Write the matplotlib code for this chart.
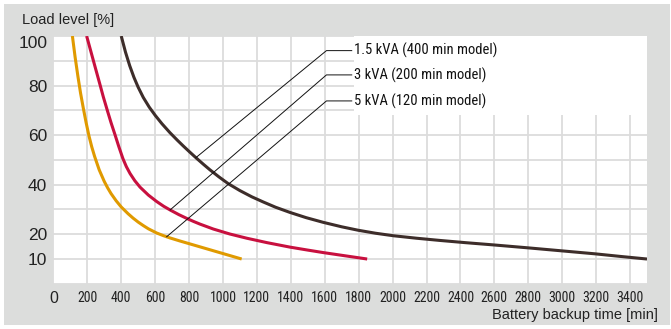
import matplotlib
matplotlib.use("Agg")
import matplotlib.pyplot as plt
import matplotlib.transforms as mtransforms
from matplotlib import font_manager
from matplotlib.patches import Rectangle

# battery backup time [min] vs load level [%]
time_5kva = [112, 128, 145, 160, 176, 193, 210, 226, 243, 270, 300, 320, 340, 370, 400, 440, 470, 500,
             530, 560, 609, 650, 688, 745, 805, 850, 900, 950, 1000, 1055, 1110]
load_5kva = [100, 91.5, 83.5, 77, 71, 65, 59.6, 55.3, 51.4, 46, 41.3, 38.7, 36.4, 33.5, 31, 28.3, 26.5, 24.9,
             23.5, 22.2, 20.5, 19.4, 18.5, 17.3, 16.1, 15.2, 14.2, 13.2, 12.2, 11.1, 10]

time_3kva = [196, 220, 250, 275, 294, 320, 340, 364, 385, 410, 430, 452, 480, 511, 560, 609, 650, 688,
             740, 786, 825, 864, 943, 1040, 1140, 1260, 1395, 1500, 1591, 1720, 1850]
load_3kva = [100, 94, 86.5, 80.3, 75.5, 69.5, 65, 60, 55.5, 50.5, 47.3, 44.5, 41.6, 39, 35.8, 33.2, 31.3, 29.8,
             27.9, 26.4, 25.2, 24.1, 22.1, 20.1, 18.4, 16.6, 14.8, 13.6, 12.6, 11.3, 10]

time_15kva = [400, 425, 450, 475, 500, 530, 565, 600, 640, 687, 730, 766, 805, 845, 885, 923, 975, 1031,
              1100, 1170, 1238, 1310, 1395, 1490, 1591, 1700, 1798, 1900, 2004, 2140, 2279, 2430, 2594,
              2800, 2997, 3193, 3350, 3500]
load_15kva = [100, 93.5, 88, 83.3, 79.3, 75.2, 71.3, 68, 64.6, 61, 58, 55.6, 53.1, 50.6, 48.2, 46, 43.2, 40.4,
              37.6, 35.1, 33, 30.9, 28.8, 26.7, 24.8, 23, 21.6, 20.4, 19.4, 18.4, 17.5, 16.6, 15.7,
              14.5, 13.3, 12.1, 11, 10]

models = ["1.5 kVA (400 min model)", "3 kVA (200 min model)", "5 kVA (120 min model)"]
label_y = [94.1, 84.3, 73.8]
leader_end_x = [840, 688, 668]
leader_end_y = [50.9, 29.8, 19.0]

x_ticks = list(range(0, 3500, 200))
y_ticks = [10, 20, 40, 60, 80, 100]

colors = {"5": "#e09a00", "3": "#c8103f", "1.5": "#3d2d2a"}

installed = {f.name for f in font_manager.fontManager.ttflist}
regular = ["Liberation Sans", "DejaVu Sans"]
narrow = regular
for cand in ["Liberation Sans Narrow", "Roboto Condensed", "Open Sans Condensed", "DejaVu Sans Condensed"]:
    if cand in installed:
        narrow = [cand, "DejaVu Sans"]
        break
is_narrow = narrow is not regular

fig = plt.figure(figsize=(6.71, 3.29), dpi=100, facecolor="white")
fig.patches.append(Rectangle((4 / 671, 4 / 329), 666 / 671, 321 / 329,
                             transform=fig.transFigure, facecolor="#dcdddc",
                             edgecolor="none", zorder=-10))

ax = fig.add_axes([53.4 / 671, 1 - 283.8 / 329, 593.6 / 671, 247.8 / 329])
ax.set_facecolor("white")
ax.set_xlim(0, 3500)
ax.set_ylim(0, 100)
for s in ax.spines.values():
    s.set_visible(False)

ax.set_axisbelow(True)
ax.set_xticks(x_ticks)
ax.set_yticks(y_ticks)
ax.set_yticks(range(0, 100, 10), minor=True)
ax.grid(which="both", color="#dcdcdc", linewidth=1.3)
ax.tick_params(which="both", length=0)
ax.tick_params(axis="x", pad=5, labelsize=10 if is_narrow else 9, labelcolor="#222222")
ax.tick_params(axis="y", pad=4.5, labelsize=12.5, labelcolor="#222222")
ax.set_xticklabels([str(t) for t in x_ticks])
for lab in ax.get_xticklabels():
    lab.set_family(narrow)
ax.get_xticklabels()[0].set_family(regular)
ax.get_xticklabels()[0].set_fontsize(11.5)
for lab in ax.get_yticklabels():
    lab.set_family(regular)
top = ax.get_yticklabels()[-1]
top.set_transform(top.get_transform() + mtransforms.ScaledTranslation(0, -6 / 100, fig.dpi_scale_trans))

# white box behind the model labels
ax.add_patch(Rectangle((1772, 68), 1728, 32, facecolor="white", edgecolor="none", zorder=1))

for t, l, c in [(time_5kva, load_5kva, colors["5"]),
                (time_3kva, load_3kva, colors["3"]),
                (time_15kva, load_15kva, colors["1.5"])]:
    ax.plot(t, l, color=c, lw=2.2, solid_capstyle="butt", solid_joinstyle="round", zorder=3)

for name, ly, ex, ey in zip(models, label_y, leader_end_x, leader_end_y):
    ax.plot([ex, 1610, 1759], [ey, ly, ly], color="#111111", lw=0.7, zorder=4)
    ax.text(1772, ly, name, family=narrow, fontsize=10.5 if is_narrow else 9.5,
            color="#111111", va="center", ha="left", zorder=5)

fig.text(22 / 671, 1 - 20 / 329, "Load level [%]", family=regular, fontsize=10.5,
         color="#222222", va="center", ha="left")
fig.text(658 / 671, 1 - 315 / 329, "Battery backup time [min]", family=regular,
         fontsize=10.5, color="#222222", va="center", ha="right")

fig.savefig("out.png", dpi=100, facecolor="white")
